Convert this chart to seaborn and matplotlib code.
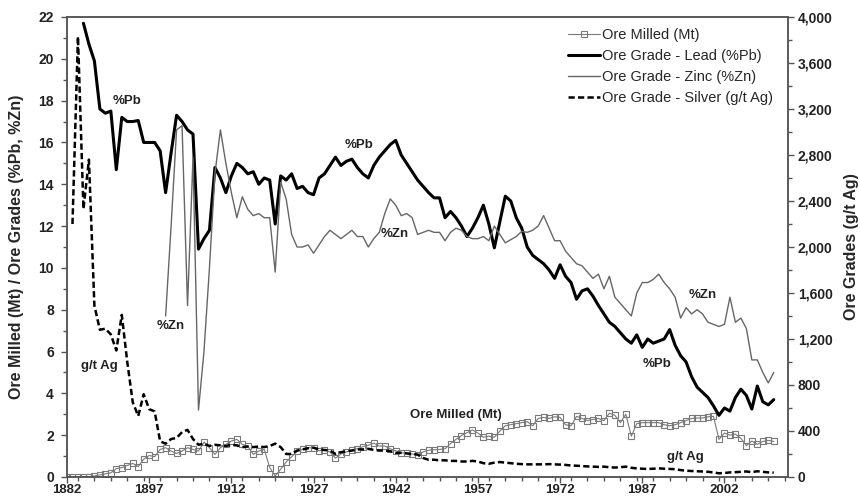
import matplotlib
matplotlib.use("Agg")
import matplotlib.pyplot as plt
import seaborn as sns
import pandas as pd
from matplotlib.ticker import MultipleLocator, FuncFormatter

# Dados (um valor por ano)
ano_ore_ini, ano_pb_ini, ano_zn_ini, ano_ag_ini, ano_fim = 1882, 1885, 1900, 1883, 2011

ore_milled = [
    0.0, 0.0, 0.0, 0.0, 0.02, 0.05, 0.1, 0.15, 0.2, 0.4,
    0.45, 0.55, 0.65, 0.5, 0.85, 1.03, 0.97, 1.32, 1.4, 1.24,
    1.13, 1.24, 1.4, 1.32, 1.24, 1.67, 1.4, 1.08, 1.4, 1.56,
    1.72, 1.8, 1.56, 1.48, 1.08, 1.24, 1.32, 0.45, 0.05, 0.37,
    0.72, 0.97, 1.24, 1.32, 1.4, 1.4, 1.25, 1.3, 1.2, 0.9,
    1.1, 1.2, 1.28, 1.35, 1.45, 1.52, 1.62, 1.48, 1.48, 1.35,
    1.25, 1.16, 1.13, 1.1, 1.05, 1.2, 1.28, 1.3, 1.32, 1.35,
    1.6, 1.8, 1.98, 2.12, 2.25, 2.1, 1.9, 1.95, 1.9, 2.2,
    2.45, 2.5, 2.55, 2.6, 2.65, 2.45, 2.8, 2.85, 2.8, 2.88,
    2.85, 2.5, 2.45, 2.9, 2.8, 2.7, 2.75, 2.8, 2.7, 3.05,
    2.95, 2.6, 3.0, 1.95, 2.55, 2.6, 2.6, 2.6, 2.6, 2.5,
    2.45, 2.5, 2.6, 2.7, 2.8, 2.82, 2.82, 2.88, 2.9, 1.8,
    2.1, 2.0, 2.05, 1.85, 1.5, 1.72, 1.56, 1.7, 1.75, 1.7,
]

teor_pb = [
    21.7, 20.7, 19.9, 17.6, 17.4, 17.5, 14.7, 17.2, 17.0, 17.0,
    17.05, 16.0, 16.0, 16.0, 15.6, 13.6, 15.5, 17.3, 17.0, 16.6,
    16.4, 10.9, 11.4, 11.8, 14.8, 14.3, 13.6, 14.4, 15.0, 14.8,
    14.5, 14.6, 14.0, 14.3, 14.2, 12.1, 14.4, 14.2, 14.5, 13.8,
    13.9, 13.6, 13.5, 14.3, 14.5, 14.9, 15.3, 14.9, 15.1, 15.2,
    14.8, 14.5, 14.3, 14.9, 15.3, 15.6, 15.9, 16.1, 15.4, 15.0,
    14.6, 14.2, 13.9, 13.6, 13.35, 13.35, 12.4, 12.7, 12.4, 12.0,
    11.5, 11.9, 12.4, 13.0, 12.1, 10.96, 12.2, 13.43, 13.2, 12.4,
    11.9, 11.0, 10.6, 10.4, 10.2, 9.9, 9.5, 10.15, 9.6, 9.3,
    8.5, 8.9, 9.0, 8.65, 8.2, 7.8, 7.4, 7.2, 6.9, 6.6,
    6.4, 6.8, 6.2, 6.6, 6.4, 6.5, 6.6, 7.05, 6.3, 5.8,
    5.5, 4.8, 4.3, 4.05, 3.8, 3.4, 2.95, 3.3, 3.15, 3.8,
    4.2, 3.9, 3.25, 4.35, 3.6, 3.45, 3.7,
]

teor_zn = [
    7.7, 12.0, 16.6, 16.8, 8.2, 15.3, 3.2, 6.0, 10.0, 14.5,
    16.6, 15.0, 13.6, 12.4, 13.4, 12.8, 12.5, 12.6, 12.4, 12.4,
    9.8, 14.1, 13.3, 11.6, 11.0, 11.0, 11.1, 10.7, 11.1, 11.5,
    11.8, 11.6, 11.4, 11.6, 11.8, 11.5, 11.5, 11.0, 11.4, 11.7,
    12.6, 13.3, 13.0, 12.5, 12.6, 12.4, 11.6, 11.7, 11.8, 11.7,
    11.7, 11.3, 11.7, 11.9, 11.8, 11.5, 11.4, 11.4, 11.5, 11.3,
    12.0, 11.6, 11.2, 11.35, 11.5, 11.75, 11.7, 11.8, 12.0, 12.5,
    11.9, 11.3, 11.3, 10.8, 10.5, 10.2, 10.1, 9.8, 9.5, 9.7,
    9.0, 9.6, 8.6, 8.3, 8.0, 7.7, 8.8, 9.3, 9.3, 9.45,
    9.7, 9.3, 9.0, 8.6, 7.6, 8.1, 7.8, 8.0, 7.8, 7.4,
    7.3, 7.2, 7.3, 8.6, 7.4, 7.6, 7.1, 5.6, 5.6, 5.0,
    4.5, 5.0,
]

teor_ag = [
    2200, 3830, 2330, 2760, 1490, 1280, 1290, 1240, 1100, 1410,
    1000, 650, 530, 720, 590, 570, 310, 290, 330, 340,
    390, 410, 330, 280, 290, 270, 280, 275, 270, 280,
    275, 260, 265, 260, 265, 260, 270, 290, 260, 200,
    200, 230, 240, 250, 255, 240, 235, 230, 200, 215,
    225, 230, 240, 240, 245, 235, 230, 230, 225, 210,
    210, 205, 200, 195, 165, 150, 150, 145, 145, 140,
    140, 135, 135, 140, 135, 120, 115, 125, 130, 125,
    120, 115, 112, 110, 110, 110, 110, 112, 110, 108,
    105, 100, 98, 95, 92, 90, 88, 90, 85, 82,
    85, 90, 80, 75, 72, 70, 72, 75, 72, 70,
    68, 60, 55, 52, 50, 48, 45, 40, 32, 35,
    40, 42, 45, 48, 42, 50, 45, 40, 38,
]

anos_x = [1882, 1897, 1912, 1927, 1942, 1957, 1972, 1987, 2002]

df_ore = pd.DataFrame({"Ano": range(ano_ore_ini, ano_fim + 1), "Valor": ore_milled})
df_pb = pd.DataFrame({"Ano": range(ano_pb_ini, ano_fim + 1), "Valor": teor_pb})
df_zn = pd.DataFrame({"Ano": range(ano_zn_ini, ano_fim + 1), "Valor": teor_zn})
df_ag = pd.DataFrame({"Ano": range(ano_ag_ini, ano_fim + 1), "Valor": teor_ag})

sns.set_style("ticks")
plt.rcParams["font.family"] = ["Liberation Sans", "DejaVu Sans"]

cor_eixo = "#555555"

fig = plt.figure(figsize=(8.6, 4.99), dpi=100)
ax = fig.add_axes([67 / 860, 22 / 499, 721 / 860, 460 / 499])
ax2 = ax.twinx()

# Séries no eixo esquerdo
sns.lineplot(data=df_ore, x="Ano", y="Valor", ax=ax, color="#7a7a7a", linewidth=0.8,
             marker="s", markersize=5, markerfacecolor="none",
             markeredgecolor="#7a7a7a", markeredgewidth=0.8,
             label="Ore Milled (Mt)", legend=False)
sns.lineplot(data=df_pb, x="Ano", y="Valor", ax=ax, color="black", linewidth=2.2,
             label="Ore Grade - Lead (%Pb)", legend=False)
sns.lineplot(data=df_zn, x="Ano", y="Valor", ax=ax, color="#666666", linewidth=1.0,
             label="Ore Grade - Zinc (%Zn)", legend=False)

# Prata no eixo direito
sns.lineplot(data=df_ag, x="Ano", y="Valor", ax=ax2, color="black", linewidth=1.8,
             linestyle=(0, (2.5, 1.3)), label="Ore Grade - Silver (g/t Ag)", legend=False)

# Eixos
ax.set_xlim(1882, 2013.6)
ax.set_ylim(0, 22)
ax2.set_ylim(0, 4000)
ax.set_xticks(anos_x)
ax.set_xticklabels([str(a) for a in anos_x])
ax.xaxis.set_minor_locator(MultipleLocator(3))
ax.set_yticks(range(0, 23, 2))
ax.yaxis.set_minor_locator(MultipleLocator(1))
ax2.set_yticks(range(0, 4001, 400))
ax2.yaxis.set_minor_locator(MultipleLocator(200))
ax2.yaxis.set_major_formatter(FuncFormatter(lambda v, p: f"{v:,.0f}"))

for a in (ax, ax2):
    a.tick_params(which="major", direction="out", length=4, width=1, color=cor_eixo,
                  labelsize=10, labelcolor="#222222")
    a.tick_params(which="minor", direction="out", length=3, width=1, color=cor_eixo)
    for s in a.spines.values():
        s.set_color(cor_eixo)
        s.set_linewidth(1.1)
    for lbl in a.get_xticklabels() + a.get_yticklabels():
        lbl.set_fontweight("bold")
ax.tick_params(axis="y", pad=5.5)
ax.tick_params(axis="x", pad=1, labelsize=9.5)
ax2.tick_params(axis="y", pad=3)

ax.set_xlabel("")
ax.set_ylabel("Ore Milled (Mt) / Ore Grades (%Pb, %Zn)", fontsize=11.5, fontweight="bold",
              va="center")
ax.yaxis.set_label_coords(-50 / 721, 0.5)
ax2.set_ylabel("Ore Grades (g/t Ag)", fontsize=11.5, fontweight="bold", va="center",
               rotation=90)
ax2.yaxis.set_label_coords(1 + 64 / 721, 0.5)

# Rótulos dentro do gráfico
rotulos = [
    ("%Pb", 1893.0, 18.0), ("%Pb", 1935.3, 15.9), ("%Pb", 1989.7, 5.4),
    ("%Zn", 1901.0, 7.2), ("%Zn", 1941.9, 11.6), ("%Zn", 1998.1, 8.7),
    ("g/t Ag", 1888.0, 5.3), ("g/t Ag", 1994.8, 0.95),
    ("Ore Milled (Mt)", 1953.0, 2.95),
]
for txt, xx, yy in rotulos:
    ax.text(xx, yy, txt, fontsize=9.5, fontweight="bold", ha="center", va="center",
            color="#222222")

# Legenda
h1, l1 = ax.get_legend_handles_labels()
h2, l2 = ax2.get_legend_handles_labels()
ax2.legend(h1 + h2, l1 + l2, loc="upper left", bbox_to_anchor=(568 / 860, 1 - 28.5 / 499),
           bbox_transform=fig.transFigure, frameon=False, fontsize=10.5,
           handlelength=2.2, handletextpad=0.15, labelspacing=0.46,
           borderpad=0, borderaxespad=0)

plt.savefig("out.png", dpi=100)
